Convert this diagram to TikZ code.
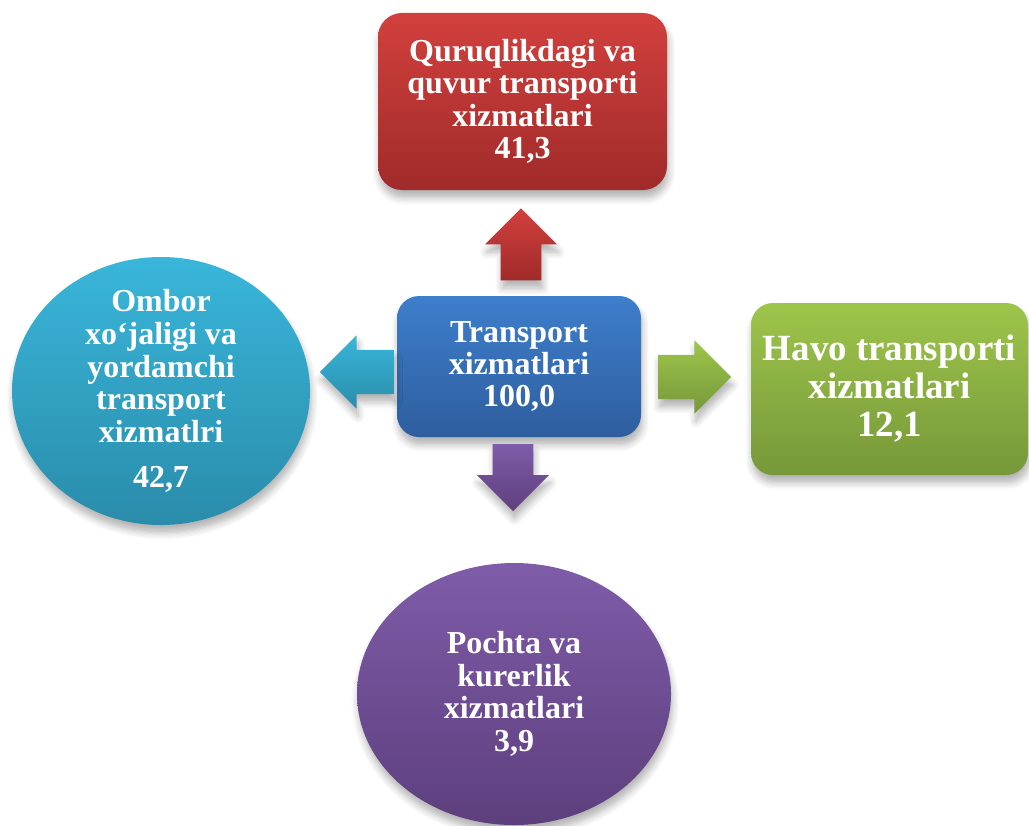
\documentclass[tikz,border=0pt]{standalone}
\usepackage{fontspec}
\setmainfont{Liberation Serif}
\usetikzlibrary{shapes.geometric, shapes.arrows, shadows.blur}
\definecolor{redtop}{HTML}{D2403D}
\definecolor{redbot}{HTML}{A02B2A}
\definecolor{bluetop}{HTML}{3E7ECC}
\definecolor{bluebot}{HTML}{2E5E9E}
\definecolor{greentop}{HTML}{9EC54B}
\definecolor{greenbot}{HTML}{76983A}
\definecolor{tealtop}{HTML}{39B6DA}
\definecolor{tealbot}{HTML}{2A8CAB}
\definecolor{purpletop}{HTML}{7F5CA9}
\definecolor{purplebot}{HTML}{5D3F7D}
\tikzstyle{softshadow} = [blur shadow={shadow xshift=0.4pt, shadow yshift=-2.2pt, shadow blur radius=2pt, shadow blur steps=6, shadow opacity=30}]
\tikzstyle{block} = [rectangle, rounded corners=0.22cm, align=center, text=white, inner sep=0.05cm, softshadow, font=\bfseries\fontsize{9.1}{9.2}\selectfont]
\tikzstyle{blob} = [ellipse, align=center, text=white, inner sep=-0.5cm, softshadow, font=\bfseries\fontsize{9.1}{9.3}\selectfont]
\tikzstyle{fatarrow} = [single arrow, minimum height=0.72cm, minimum width=0.72cm, single arrow head extend=0.145cm, single arrow head indent=0pt, inner xsep=0.18cm, inner ysep=0.215cm, softshadow]

\begin{document}
\begin{tikzpicture}
\useasboundingbox (0,0) rectangle (10.29,8.25);
% centre
\node[block, top color=bluetop, bottom color=bluebot, minimum width=2.44cm, minimum height=1.41cm] (transport) at (5.19,4.585) {Transport\\xizmatlari\\100,0};
% four branches
\node[block, top color=redtop, bottom color=redbot, minimum width=2.89cm, minimum height=1.77cm, rounded corners=0.24cm] (land) at (5.225,7.235) {Quruqlikdagi va\\quvur transporti\\xizmatlari\\41,3};
\node[block, top color=greentop, bottom color=greenbot, minimum width=2.77cm, minimum height=1.72cm, font=\bfseries\fontsize{10.5}{10.8}\selectfont] (air) at (8.895,4.36) {Havo transporti\\xizmatlari\\12,1};
\node[blob, top color=tealtop, bottom color=tealbot, minimum width=2.98cm, minimum height=2.68cm] (storage) at (1.61,4.34) {Ombor\\xo‘jaligi va\\yordamchi\\transport\\xizmatlri\\[3.5pt]42,7};
\node[blob, top color=purpletop, bottom color=purplebot, minimum width=3.14cm, minimum height=2.62cm] (post) at (5.14,1.31) {Pochta va\\kurerlik\\xizmatlari\\3,9};
% arrows
\node[fatarrow, shape border rotate=90, top color=redtop, bottom color=redbot] (toLand) at (5.21,5.705) {};
\node[fatarrow, shape border rotate=180, minimum height=0.74cm, top color=tealtop, bottom color=tealbot] (toStorage) at (3.68,4.53) {};
\node[fatarrow, shape border rotate=0, minimum height=0.73cm, top color=greentop, bottom color=greenbot] (toAir) at (6.835,4.48) {};
\node[fatarrow, shape border rotate=270, minimum height=0.67cm, top color=purpletop, bottom color=purplebot] (toPost) at (5.13,3.575) {};
\end{tikzpicture}
\end{document}
